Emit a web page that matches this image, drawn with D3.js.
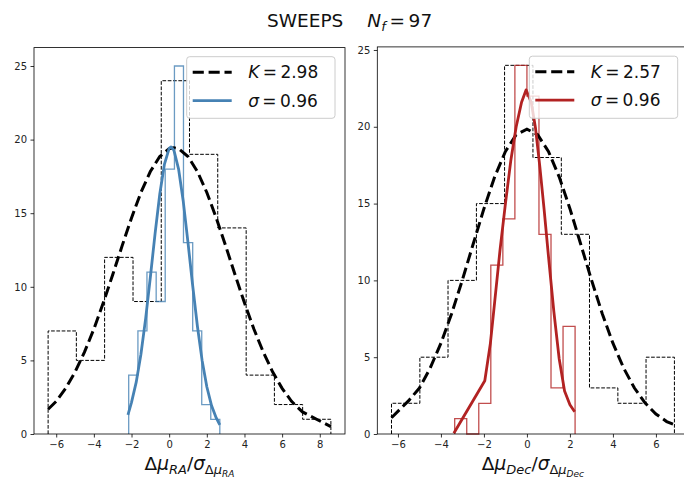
<!DOCTYPE html>
<html><head><meta charset="utf-8">
<script src="https://cdn.jsdelivr.net/npm/d3@7"></script>
<style>body{margin:0;background:#fff}svg{display:block}text{font-family:"DejaVu Sans",sans-serif}</style>
</head><body>
<svg id="c" width="684" height="477"></svg>
<script>
// ---------------- data ----------------
const raEdgesAll  = [-6.43, -4.93, -3.43, -1.92, -0.42, 1.08, 2.58, 4.09, 5.59, 7.09, 8.59];
const raCountsAll = [7, 5, 12, 9, 24, 19, 14, 4, 2, 1];
const raEdgesFit  = [-2.15, -1.66, -1.18, -0.69, -0.21, 0.28, 0.76, 1.25, 1.73, 2.21, 2.69];
const raCountsFit = [4, 7, 11, 9, 18, 25, 13, 7, 2, 1];

const decEdgesAll  = [-6.30, -4.98, -3.67, -2.35, -1.04, 0.28, 1.60, 2.91, 4.23, 5.54, 6.86];
const decCountsAll = [2, 5, 10, 15, 24, 18, 13, 3, 2, 5];
const decEdgesFit  = [-3.36, -2.80, -2.24, -1.68, -1.12, -0.56, 0.00, 0.56, 1.12, 1.68, 2.24];
const decCountsFit = [1, 0, 2, 11, 14, 24, 22, 13, 3, 7];

// fitted curves
const raCurveAllX = [-6.43,-6.0,-5.5,-5.0,-4.5,-4.0,-3.5,-3.0,-2.5,-2.0,-1.5,-1.0,-0.5,0.0,0.25,0.5,1.0,1.5,2.0,2.5,3.0,3.5,4.0,4.5,5.0,5.5,6.0,6.5,7.08,8.59];
const raCurveAllY = [1.68,2.22,3.10,4.21,5.56,7.13,8.91,10.82,12.78,14.68,16.41,17.83,18.85,19.38,19.45,19.38,18.85,17.83,16.41,14.68,12.78,10.82,8.91,7.13,5.56,4.21,3.10,2.22,1.50,0.50];
const raCurveFitX = [-2.19,-2.0,-1.75,-1.5,-1.25,-1.0,-0.75,-0.5,-0.25,0.0,0.1,0.25,0.5,0.75,1.0,1.25,1.5,1.75,2.0,2.25,2.5,2.69];
const raCurveFitY = [1.30,2.15,3.52,5.42,7.84,10.65,13.59,16.29,18.34,19.40,19.50,19.28,18.00,15.79,13.00,10.07,7.32,5.00,3.21,1.93,1.09,0.62];

const decCurveAllX = [-6.30,-5.5,-5.0,-4.5,-4.0,-3.5,-3.0,-2.5,-2.0,-1.5,-1.0,-0.5,0.0,0.5,1.0,1.5,2.0,2.5,3.0,3.5,4.0,4.5,5.0,5.5,6.0,6.5,6.83];
const decCurveAllY = [1.06,2.17,2.99,4.29,5.91,7.85,10.04,12.37,14.67,16.74,18.40,19.48,19.85,19.48,18.40,16.74,14.67,12.37,10.04,7.85,5.91,4.29,2.99,2.01,1.30,0.81,0.63];
const decCurveFitX = [-3.40,-1.96,-1.70,-1.50,-1.25,-1.00,-0.75,-0.50,-0.25,-0.04,0.20,0.40,0.60,0.80,1.00,1.25,1.50,1.75,2.00,2.22];
const decCurveFitY = [0.05,3.47,5.9,8.6,12.0,15.0,17.8,20.0,21.6,22.4,21.6,19.9,17.4,14.6,11.6,8.0,4.9,2.8,1.9,1.45];

const raTicksX  = [-6, -4, -2, 0, 2, 4, 6, 8];
const decTicksX = [-6, -4, -2, 0, 2, 4, 6];
const ticksY    = [0, 5, 10, 15, 20, 25];

const raLegend  = ["2.98", "0.96"];
const decLegend = ["2.57", "0.96"];
const titleText = "SWEEPS";
const nFields   = 97;

// ---------------- drawing ----------------
const svg = d3.select("#c");
const FONT = "DejaVu Sans";

function stepPoints(edges, counts) {
  const pts = [[edges[0], 0]];
  counts.forEach((c, i) => { pts.push([edges[i], c]); pts.push([edges[i + 1], c]); });
  pts.push([edges[edges.length - 1], 0]);
  return pts;
}

function panel(o) {
  const x = d3.scaleLinear().domain(o.xDom).range(o.xRange);
  const y = d3.scaleLinear().domain(o.yDom).range(o.yRange);
  const g = svg.append("g");
  const line = d3.line().x(d => x(d[0])).y(d => y(d[1]));

  // histograms
  g.append("path").attr("d", line(stepPoints(o.edgesAll, o.countsAll)))
    .attr("fill", "none").attr("stroke", "#000").attr("stroke-width", 1)
    .attr("stroke-dasharray", "3.7,1.6");
  g.append("path").attr("d", line(stepPoints(o.edgesFit, o.countsFit)))
    .attr("fill", "none").attr("stroke", o.color).attr("stroke-width", 1.3)
    .attr("stroke-opacity", 0.8);
  // curves
  g.append("path").attr("d", line(o.curveAllX.map((v, i) => [v, o.curveAllY[i]])))
    .attr("fill", "none").attr("stroke", "#000").attr("stroke-width", 3)
    .attr("stroke-dasharray", "11.1,4.8");
  g.append("path").attr("d", line(o.curveFitX.map((v, i) => [v, o.curveFitY[i]])))
    .attr("fill", "none").attr("stroke", o.color).attr("stroke-width", 2.8)
    .attr("stroke-linejoin", "round");

  // spines
  const [x0, x1] = o.xRange, [y0, y1] = o.yRange;
  g.append("rect").attr("x", x0).attr("y", y1).attr("width", x1 - x0).attr("height", y0 - y1)
    .attr("fill", "none").attr("stroke", "#000").attr("stroke-width", 0.8);

  // axes ticks
  const ax = g.append("g").attr("transform", `translate(0,${y0})`)
    .call(d3.axisBottom(x).tickValues(o.ticksX).tickSize(3.5).tickPadding(3.5)
      .tickFormat(d => d < 0 ? "\u2212" + Math.abs(d) : String(d)));
  const ay = g.append("g").attr("transform", `translate(${x0},0)`)
    .call(d3.axisLeft(y).tickValues(ticksY).tickSize(3.5).tickPadding(3.5));
  [ax, ay].forEach(a => {
    a.select(".domain").remove();
    a.selectAll("line").attr("stroke", "#000").attr("stroke-width", 0.8);
    a.selectAll("text").attr("font-family", FONT).attr("font-size", 10).attr("fill", "#222");
  });

  // legend
  const L = o.legend;
  g.append("rect").attr("x", L.x).attr("y", L.y).attr("width", L.w).attr("height", L.h)
    .attr("rx", 3).attr("fill", "#fff").attr("fill-opacity", 0.8)
    .attr("stroke", "#ccc").attr("stroke-width", 1);
  const rows = [
    { sym: "K", val: o.legendVals[0], stroke: "#000", dash: "11.1,4.8", w: 3 },
    { sym: "\u03c3", val: o.legendVals[1], stroke: o.color, dash: null, w: 2.8 }
  ];
  rows.forEach((r, i) => {
    const ly = L.y + 15.6 + i * 28.4;
    g.append("line").attr("x1", L.x + 6).attr("x2", L.x + 45).attr("y1", ly).attr("y2", ly)
      .attr("stroke", r.stroke).attr("stroke-width", r.w)
      .attr("stroke-dasharray", r.dash);
    const t = g.append("text").attr("x", L.x + 61.5).attr("y", ly + 6)
      .attr("font-family", FONT).attr("font-size", 17).attr("fill", "#111");
    t.append("tspan").attr("font-style", "italic").text(r.sym);
    t.append("tspan").text("\u2009=\u2009" + r.val);
  });

  // x label
  const xl = g.append("text").attr("x", (x0 + x1) / 2).attr("y", 470)
    .attr("text-anchor", "middle").attr("font-family", FONT).attr("font-size", 18.5).attr("fill", "#111");
  xl.append("tspan").text("\u0394");
  xl.append("tspan").attr("font-style", "italic").text("\u03bc");
  xl.append("tspan").attr("font-style", "italic").attr("font-size", 13).attr("dy", 4).text(o.sub);
  xl.append("tspan").attr("dy", -4).text("/");
  xl.append("tspan").attr("font-style", "italic").text("\u03c3");
  xl.append("tspan").attr("font-size", 13).attr("dy", 4).text("\u0394");
  xl.append("tspan").attr("font-size", 13).attr("font-style", "italic").text("\u03bc");
  xl.append("tspan").attr("font-size", 9).attr("font-style", "italic").attr("dy", 2.5).text(o.sub);
}

panel({
  xDom: [-7.18, 9.34], xRange: [34, 345], yDom: [0, 26.25], yRange: [434, 47.6],
  edgesAll: raEdgesAll, countsAll: raCountsAll, edgesFit: raEdgesFit, countsFit: raCountsFit,
  curveAllX: raCurveAllX, curveAllY: raCurveAllY, curveFitX: raCurveFitX, curveFitY: raCurveFitY,
  color: "#4682b4", ticksX: raTicksX,
  legend: { x: 186.7, y: 56.7, w: 148.3, h: 61.6 }, legendVals: raLegend, sub: "RA"
});
panel({
  xDom: [-6.96, 7.52], xRange: [377.3, 688.6], yDom: [0, 25.2], yRange: [434, 46.9],
  edgesAll: decEdgesAll, countsAll: decCountsAll, edgesFit: decEdgesFit, countsFit: decCountsFit,
  curveAllX: decCurveAllX, curveAllY: decCurveAllY, curveFitX: decCurveFitX, curveFitY: decCurveFitY,
  color: "#b22222", ticksX: decTicksX,
  legend: { x: 529.3, y: 56.2, w: 148.4, h: 62.1 }, legendVals: decLegend, sub: "Dec"
});

// title
const tt = svg.append("text").attr("x", 267).attr("y", 27)
  .attr("font-family", FONT).attr("font-size", 18.5).attr("fill", "#111");
tt.append("tspan").text(titleText);
tt.append("tspan").attr("dx", 24).attr("font-style", "italic").text("N");
tt.append("tspan").attr("font-style", "italic").attr("font-size", 13).attr("dy", 3.5).text("f");
tt.append("tspan").attr("dy", -3.5).text("\u2009=\u2009" + nFields);
</script>
</body></html>
